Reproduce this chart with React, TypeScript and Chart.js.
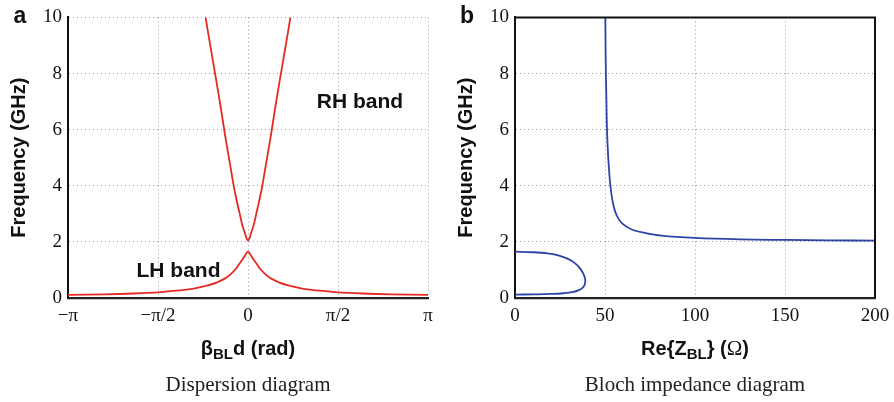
import React, { useEffect, useRef } from "react";
import { Chart, registerables } from "chart.js";

Chart.register(...registerables);

// ---------- Data ----------
// (a) Dispersion diagram: right-handed band (upper V) and left-handed band (lower peak)
const rhBeta = [-0.74, -0.7, -0.6, -0.5, -0.4, -0.3, -0.25, -0.2, -0.15, -0.1, -0.06, -0.03, 0, 0.03, 0.06, 0.1, 0.15, 0.2, 0.25, 0.3, 0.4, 0.5, 0.6, 0.7, 0.74];
const rhFreq = [10, 9.5, 8.3, 7.1, 5.8, 4.6, 4.0, 3.5, 3.05, 2.6, 2.35, 2.15, 2.05, 2.15, 2.35, 2.6, 3.05, 3.5, 4.0, 4.6, 5.8, 7.1, 8.3, 9.5, 10];

const lhBeta = [-3.1416, -2.5, -2.0, -1.571, -1.25, -1.0, -0.85, -0.7, -0.55, -0.4, -0.3, -0.2, -0.15, -0.1, -0.05, 0, 0.05, 0.1, 0.15, 0.2, 0.3, 0.4, 0.55, 0.7, 0.85, 1.0, 1.25, 1.571, 2.0, 2.5, 3.1416];
const lhFreq = [0.11, 0.13, 0.16, 0.2, 0.26, 0.32, 0.38, 0.45, 0.55, 0.7, 0.85, 1.07, 1.22, 1.36, 1.52, 1.66, 1.52, 1.36, 1.22, 1.07, 0.85, 0.7, 0.55, 0.45, 0.38, 0.32, 0.26, 0.2, 0.16, 0.13, 0.11];

// (b) Bloch impedance diagram: lower loop (LH band) and upper branch (RH band)
const loopZ = [0, 10, 18, 24, 28.5, 32, 34.5, 36.5, 38, 38.9, 39, 38.6, 37.5, 35.5, 32, 27, 20, 10, 0];
const loopFreq = [1.65, 1.63, 1.59, 1.52, 1.42, 1.3, 1.17, 1.02, 0.86, 0.7, 0.58, 0.46, 0.36, 0.28, 0.21, 0.17, 0.145, 0.13, 0.12];

const upperZ = [50.2, 50.3, 50.5, 50.8, 51.1, 51.8, 53.0, 54.5, 56.5, 59.3, 64.8, 72, 81.5, 100, 125, 150, 175, 200];
const upperFreq = [10, 9, 8, 7, 6, 5, 4, 3.35, 2.94, 2.67, 2.44, 2.32, 2.22, 2.14, 2.09, 2.07, 2.055, 2.045];

// Ticks
const betaTickValues = [-Math.PI, -Math.PI / 2, 0, Math.PI / 2, Math.PI];
const betaTickLabels = ["\u2212\u03c0", "\u2212\u03c0/2", "0", "\u03c0/2", "\u03c0"];
const freqTicks = [0, 2, 4, 6, 8, 10];
const zTicks = [0, 50, 100, 150, 200];

// ---------- Styling ----------
const SANS = "'Liberation Sans', Arial, Helvetica, sans-serif";
const SERIF = "'Liberation Serif', 'Times New Roman', serif";
const RED = "#e32b24";
const BLUE = "#2c44a5";
const GRID = "#9a9a9a";

type Seg = { t: string; font: string; dy?: number };
type TextItem = {
  segs: Seg[];
  x: number | ((c: Chart) => number);
  y: number | ((c: Chart) => number);
  color?: string;
};

function drawItems(chart: Chart, items: TextItem[]) {
  const ctx = chart.ctx;
  ctx.save();
  ctx.textBaseline = "alphabetic";
  ctx.textAlign = "left";
  for (const it of items) {
    const cx = typeof it.x === "function" ? it.x(chart) : it.x;
    const cy = typeof it.y === "function" ? it.y(chart) : it.y;
    let total = 0;
    for (const s of it.segs) {
      ctx.font = s.font;
      total += ctx.measureText(s.t).width;
    }
    let x = cx - total / 2;
    ctx.fillStyle = it.color || "#111";
    for (const s of it.segs) {
      ctx.font = s.font;
      ctx.fillText(s.t, x, cy + (s.dy || 0));
      x += ctx.measureText(s.t).width;
    }
  }
  ctx.restore();
}

const pts = (xs: number[], ys: number[]) => xs.map((x, i) => ({ x, y: ys[i] }));

function freqAxis(): any {
  return {
    type: "linear",
    min: 0,
    max: 10,
    afterBuildTicks: (s: any) => {
      s.ticks = freqTicks.map((v) => ({ value: v }));
    },
    ticks: {
      font: { family: SERIF, size: 19 },
      color: "#111",
      padding: 6,
    },
    grid: { color: GRID, lineWidth: 1, drawTicks: false },
    border: { display: true, color: "#111", width: 2, dash: [1, 3] },
    title: {
      display: true,
      text: "Frequency (GHz)",
      font: { family: SANS, size: 20, weight: "bold" },
      color: "#111",
      padding: { top: 7, bottom: 0 },
    },
    afterFit: (s: any) => {
      s.width = 68;
    },
  };
}

function xAxisBase(): any {
  return {
    type: "linear",
    ticks: {
      font: { family: SERIF, size: 19 },
      color: "#111",
      padding: 7,
      maxRotation: 0,
      autoSkip: false,
    },
    grid: { color: GRID, lineWidth: 1, drawTicks: false },
    border: { display: true, color: "#222", width: 2.2, dash: [1, 3] },
    afterFit: (s: any) => {
      s.height = 104;
      s.paddingLeft = 0;
      s.paddingRight = 0;
    },
  };
}

const centerX = (c: Chart) => (c.chartArea.left + c.chartArea.right) / 2;
const B20 = `bold 20px ${SANS}`;
const B15 = `bold 15px ${SANS}`;

function makeLeftConfig(): any {
  const items: TextItem[] = [
    { segs: [{ t: "a", font: `bold 23px ${SANS}` }], x: 20, y: 23 },
    {
      segs: [{ t: "RH band", font: `bold 21px ${SANS}` }],
      x: (c) => c.scales.x.getPixelForValue(1.955),
      y: (c) => c.scales.y.getPixelForValue(6.76),
    },
    {
      segs: [{ t: "LH band", font: `bold 21px ${SANS}` }],
      x: (c) => c.scales.x.getPixelForValue(-1.213),
      y: (c) => c.scales.y.getPixelForValue(0.76),
    },
    {
      segs: [
        { t: "\u03b2", font: B20 },
        { t: "BL", font: B15, dy: 4 },
        { t: "d (rad)", font: B20 },
      ],
      x: centerX,
      y: 355,
    },
    { segs: [{ t: "Dispersion diagram", font: `21px ${SERIF}` }], x: centerX, y: 391, color: "#222" },
  ];
  const xAxis = xAxisBase();
  xAxis.min = -Math.PI;
  xAxis.max = Math.PI;
  xAxis.afterBuildTicks = (s: any) => {
    s.ticks = betaTickValues.map((v) => ({ value: v }));
  };
  xAxis.ticks.callback = (_v: any, i: number) => betaTickLabels[i];
  return {
    type: "line",
    data: {
      datasets: [
        { data: pts(rhBeta, rhFreq), borderColor: RED, borderWidth: 1.8, pointRadius: 0, tension: 0.3 },
        { data: pts(lhBeta, lhFreq), borderColor: RED, borderWidth: 1.8, pointRadius: 0, tension: 0.3 },
      ],
    },
    options: {
      responsive: false,
      maintainAspectRatio: false,
      animation: false,
      devicePixelRatio: 1,
      layout: { padding: { top: 15, right: 19, bottom: 0, left: 0 } },
      plugins: { legend: { display: false }, tooltip: { enabled: false } },
      scales: { x: xAxis, y: freqAxis() },
    },
    plugins: [{ id: "txtA", afterDraw: (c: Chart) => drawItems(c, items) }],
  };
}

function makeRightConfig(): any {
  const items: TextItem[] = [
    { segs: [{ t: "b", font: `bold 23px ${SANS}` }], x: 20, y: 23 },
    {
      segs: [
        { t: "Re{Z", font: B20 },
        { t: "BL", font: B15, dy: 4 },
        { t: "} (", font: B20 },
        { t: "\u03a9", font: `21px ${SERIF}` },
        { t: ")", font: B20 },
      ],
      x: centerX,
      y: 355,
    },
    { segs: [{ t: "Bloch impedance diagram", font: `21px ${SERIF}` }], x: centerX, y: 391, color: "#222" },
  ];
  const xAxis = xAxisBase();
  xAxis.min = 0;
  xAxis.max = 200;
  xAxis.afterBuildTicks = (s: any) => {
    s.ticks = zTicks.map((v) => ({ value: v }));
  };
  return {
    type: "line",
    data: {
      datasets: [
        { data: pts(loopZ, loopFreq), borderColor: BLUE, borderWidth: 1.8, pointRadius: 0, tension: 0.35 },
        { data: pts(upperZ, upperFreq), borderColor: BLUE, borderWidth: 1.8, pointRadius: 0, tension: 0.35 },
      ],
    },
    options: {
      responsive: false,
      maintainAspectRatio: false,
      animation: false,
      devicePixelRatio: 1,
      layout: { padding: { top: 15, right: 19, bottom: 0, left: 0 } },
      plugins: { legend: { display: false }, tooltip: { enabled: false } },
      scales: { x: xAxis, y: freqAxis() },
    },
    plugins: [
      {
        id: "boxB",
        afterDraw: (c: Chart) => {
          const { left, right, top, bottom } = c.chartArea;
          const ctx = c.ctx;
          ctx.save();
          ctx.strokeStyle = "#111";
          ctx.lineWidth = 2;
          ctx.beginPath();
          ctx.moveTo(left, top);
          ctx.lineTo(right, top);
          ctx.lineTo(right, bottom);
          ctx.stroke();
          ctx.restore();
        },
      },
      { id: "txtB", afterDraw: (c: Chart) => drawItems(c, items) },
    ],
  };
}

function Panel({ left, make }: { left: number; make: () => any }) {
  const ref = useRef<HTMLCanvasElement | null>(null);
  useEffect(() => {
    if (!ref.current) return;
    const chart = new Chart(ref.current, make());
    return () => chart.destroy();
  }, []);
  return (
    <canvas
      ref={ref}
      width={447}
      height={402}
      style={{ position: "absolute", left, top: 0, width: 447, height: 402 }}
    />
  );
}

export default function App() {
  return (
    <div style={{ position: "absolute", left: 0, top: 0, width: 894, height: 402, background: "#fff", overflow: "hidden" }}>
      <Panel left={0} make={makeLeftConfig} />
      <Panel left={447} make={makeRightConfig} />
    </div>
  );
}
